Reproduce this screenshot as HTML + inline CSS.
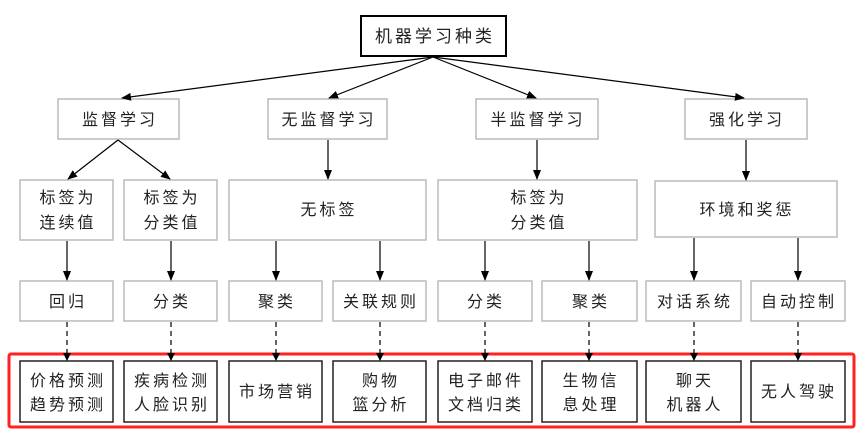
<!DOCTYPE html>
<html><head><meta charset="utf-8"><style>
html,body{margin:0;padding:0;background:#fff;width:866px;height:435px;overflow:hidden}
svg text{font-family:"Liberation Sans","Noto Sans CJK SC",sans-serif;font-size:16px;fill:#222;text-anchor:middle;letter-spacing:3px}
</style></head><body>
<svg width="866" height="435" viewBox="0 0 866 435" xmlns="http://www.w3.org/2000/svg">
<defs>
<marker id="a" markerWidth="10" markerHeight="8" refX="9" refY="4" orient="auto" markerUnits="userSpaceOnUse">
<path d="M0,0 L10,4 L0,8 z" fill="#000"/></marker>
<marker id="b" markerWidth="8" markerHeight="8" refX="7" refY="4" orient="auto" markerUnits="userSpaceOnUse">
<path d="M0,0 L8,4 L0,8 z" fill="#000"/></marker>
</defs>
<g fill="none" stroke-width="2">
<rect x="361" y="16" width="145" height="40" stroke="#000"/>
</g>
<g fill="#fff" stroke="#bbb" stroke-width="1.5">
<rect x="58" y="99" width="121" height="40"/>
<rect x="268" y="99" width="119" height="40"/>
<rect x="476" y="99" width="122" height="40"/>
<rect x="685" y="99" width="122" height="40"/>
<rect x="20" y="180" width="93" height="60"/>
<rect x="124" y="180" width="93" height="60"/>
<rect x="229" y="180" width="197" height="60"/>
<rect x="438" y="180" width="199" height="60"/>
<rect x="655" y="181" width="182" height="56"/>
<rect x="20" y="281" width="93" height="40"/>
<rect x="124" y="281" width="93" height="40"/>
<rect x="229" y="281" width="93" height="40"/>
<rect x="333" y="281" width="93" height="40"/>
<rect x="438" y="281" width="94" height="40"/>
<rect x="542" y="281" width="95" height="40"/>
<rect x="646" y="281" width="95" height="40"/>
<rect x="751" y="281" width="94" height="40"/>
</g>
<rect x="9" y="354" width="845" height="73" fill="none" stroke="#f22" stroke-width="3" rx="2"/>
<g fill="#fff" stroke="#222" stroke-width="1.5">
<rect x="20" y="361" width="93" height="61"/>
<rect x="124" y="361" width="93" height="61"/>
<rect x="229" y="361" width="93" height="61"/>
<rect x="333" y="361" width="93" height="61"/>
<rect x="438" y="361" width="94" height="61"/>
<rect x="542" y="361" width="95" height="61"/>
<rect x="646" y="361" width="95" height="61"/>
<rect x="751" y="361" width="94" height="61"/>
</g>
<g stroke="#000" stroke-width="1.2" fill="none" marker-end="url(#a)">
<line x1="433" y1="57" x2="122" y2="98"/>
<line x1="433" y1="57" x2="329" y2="98"/>
<line x1="433" y1="57" x2="536" y2="98"/>
<line x1="433" y1="57" x2="744" y2="98"/>
<line x1="118" y1="140" x2="68" y2="179"/>
<line x1="118" y1="140" x2="170" y2="179"/>
<line x1="328" y1="140" x2="328" y2="179"/>
<line x1="537" y1="140" x2="537" y2="179"/>
<line x1="746" y1="140" x2="746" y2="180"/>
<line x1="67" y1="241" x2="67" y2="280"/>
<line x1="171" y1="241" x2="171" y2="280"/>
<line x1="276" y1="241" x2="276" y2="280"/>
<line x1="380" y1="241" x2="380" y2="280"/>
<line x1="485" y1="241" x2="485" y2="280"/>
<line x1="589" y1="241" x2="589" y2="280"/>
<line x1="694" y1="238" x2="694" y2="280"/>
<line x1="798" y1="238" x2="798" y2="280"/>
</g>
<g stroke="#000" stroke-width="1.2" fill="none" stroke-dasharray="5,4" marker-end="url(#b)">
<line x1="67" y1="322" x2="67" y2="360"/>
<line x1="171" y1="322" x2="171" y2="360"/>
<line x1="276" y1="322" x2="276" y2="360"/>
<line x1="380" y1="322" x2="380" y2="360"/>
<line x1="485" y1="322" x2="485" y2="360"/>
<line x1="589" y1="322" x2="589" y2="360"/>
<line x1="694" y1="322" x2="694" y2="360"/>
<line x1="798" y1="322" x2="798" y2="360"/>
</g>
<text x="435" y="42" style="font-size:17px">机器学习种类</text>
<text x="120" y="125">监督学习</text>
<text x="329" y="125">无监督学习</text>
<text x="538" y="125">半监督学习</text>
<text x="747" y="125">强化学习</text>
<text x="68" y="203">标签为</text>
<text x="68" y="228">连续值</text>
<text x="172" y="203">标签为</text>
<text x="172" y="228">分类值</text>
<text x="329" y="215">无标签</text>
<text x="539" y="203">标签为</text>
<text x="539" y="228">分类值</text>
<text x="747" y="215">环境和奖惩</text>
<text x="68" y="307">回归</text>
<text x="172" y="307">分类</text>
<text x="277" y="307">聚类</text>
<text x="381" y="307">关联规则</text>
<text x="486" y="307">分类</text>
<text x="591" y="307">聚类</text>
<text x="695" y="307">对话系统</text>
<text x="799" y="307">自动控制</text>
<text x="68" y="386">价格预测</text>
<text x="68" y="410">趋势预测</text>
<text x="172" y="386">疾病检测</text>
<text x="172" y="410">人脸识别</text>
<text x="277" y="397">市场营销</text>
<text x="381" y="386">购物</text>
<text x="381" y="410">篮分析</text>
<text x="486" y="386">电子邮件</text>
<text x="486" y="410">文档归类</text>
<text x="591" y="386">生物信</text>
<text x="591" y="410">息处理</text>
<text x="695" y="386">聊天</text>
<text x="695" y="410">机器人</text>
<text x="799" y="397">无人驾驶</text>
</svg>
</body></html>
